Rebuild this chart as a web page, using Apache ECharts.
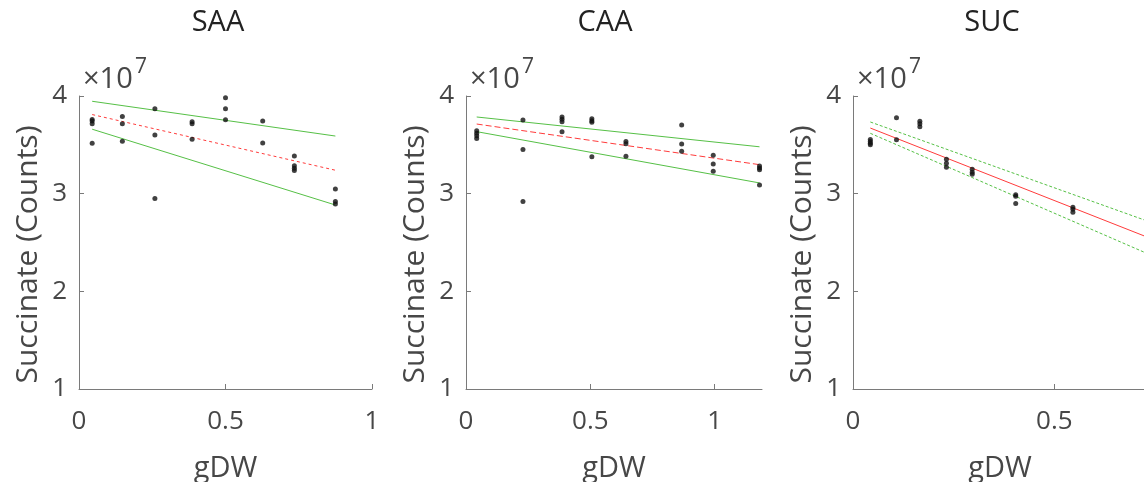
<!DOCTYPE html>
<html>
<head>
<meta charset="utf-8">
<script src="https://cdn.jsdelivr.net/npm/echarts@6/dist/echarts.min.js"></script>
<style>
  html, body { margin: 0; padding: 0; background: #ffffff; }
  #chart { width: 1144px; height: 482px; }
</style>
</head>
<body>
<div id="chart"></div>
<script>
// Succinate (counts, in units of 1e7) against dry weight for three growth conditions
const panelTitles = ['SAA', 'CAA', 'SUC'];
const yTicks = [1, 2, 3, 4];
const xTicksSAA = [0, 0.5, 1];
const xTicksCAA = [0, 0.5, 1];
const xTicksSUC = [0, 0.5];
const xMaxes = [1, 1.19, 0.73];

// SAA measurements
const saaX = [0.045, 0.045, 0.045, 0.045, 0.148, 0.148, 0.148, 0.259, 0.259, 0.259,
              0.386, 0.386, 0.386, 0.5, 0.5, 0.5, 0.627, 0.627,
              0.735, 0.735, 0.735, 0.735, 0.875, 0.875, 0.875];
const saaY = [3.76, 3.745, 3.715, 3.515, 3.79, 3.715, 3.537, 3.87, 3.60, 2.95,
              3.737, 3.717, 3.556, 3.983, 3.87, 3.757, 3.744, 3.518,
              3.386, 3.285, 3.26, 3.237, 3.048, 2.92, 2.895];
const saaFitX = [0.045, 0.875];
const saaFit = [3.81, 3.24];
const saaUpper = [3.946, 3.59];
const saaLower = [3.66, 2.884];

// CAA measurements
const caaX = [0.043, 0.043, 0.043, 0.043, 0.229, 0.229, 0.229,
              0.386, 0.386, 0.386, 0.386, 0.506, 0.506, 0.506, 0.506,
              0.643, 0.643, 0.643, 0.867, 0.867, 0.867, 0.994, 0.994, 0.994,
              1.18, 1.18, 1.18, 1.18];
const caaY = [3.645, 3.618, 3.594, 3.565, 3.755, 3.452, 2.92,
              3.785, 3.761, 3.737, 3.635, 3.768, 3.747, 3.73, 3.377,
              3.533, 3.512, 3.383, 3.703, 3.509, 3.434, 3.393, 3.304, 3.229,
              3.283, 3.263, 3.245, 3.089];
const caaFitX = [0.043, 1.18];
const caaFit = [3.713, 3.297];
const caaUpper = [3.785, 3.48];
const caaLower = [3.635, 3.11];

// SUC measurements
const sucX = [0.043, 0.043, 0.043, 0.043, 0.108, 0.108, 0.166, 0.166, 0.166,
              0.232, 0.232, 0.232, 0.296, 0.296, 0.296, 0.404, 0.404, 0.404,
              0.546, 0.546, 0.546];
const sucY = [3.555, 3.535, 3.515, 3.50, 3.778, 3.552, 3.741, 3.716, 3.686,
              3.352, 3.311, 3.27, 3.25, 3.22, 3.20, 2.99, 2.973, 2.90,
              2.86, 2.84, 2.81];
const sucFitX = [0.043, 0.73];
const sucFit = [3.672, 2.556];
const sucUpper = [3.734, 2.721];
const sucLower = [3.618, 2.388];

const FONT = '"Open Sans", "Noto Sans", sans-serif';
const AXIS_GRAY = '#7a7a7a';
const LABEL_GRAY = '#474747';
const RED = '#ff3b3b';
const GREEN = '#56c046';

const zip = (xs, ys) => xs.map((x, i) => [x, ys[i]]);

const panels = [
  { x: saaX, y: saaY, fx: saaFitX, fit: saaFit, up: saaUpper, lo: saaLower, xt: xTicksSAA,
    left: 79, width: 293, fitDash: [3, 3], bandDash: 'solid' },
  { x: caaX, y: caaY, fx: caaFitX, fit: caaFit, up: caaUpper, lo: caaLower, xt: xTicksCAA,
    left: 466, width: 296, fitDash: [6, 3], bandDash: 'solid' },
  { x: sucX, y: sucY, fx: sucFitX, fit: sucFit, up: sucUpper, lo: sucLower, xt: xTicksSUC,
    left: 853, width: 294, fitDash: 'solid', bandDash: [3, 2] }
];

const grid = [], xAxis = [], yAxis = [], series = [], graphic = [];

panels.forEach((p, i) => {
  grid.push({ left: p.left, top: 96, width: p.width, height: 293,
              containLabel: false, outerBoundsMode: 'none' });

  xAxis.push({
    type: 'value', gridIndex: i, min: 0, max: xMaxes[i],
    name: 'gDW', nameLocation: 'middle', nameGap: 65,
    nameTextStyle: { fontFamily: FONT, fontSize: 29, color: LABEL_GRAY },
    axisLine: { show: true, onZero: false, lineStyle: { color: AXIS_GRAY, width: 1 } },
    axisTick: { show: true, inside: true, length: 5, customValues: p.xt,
                lineStyle: { color: AXIS_GRAY } },
    axisLabel: { customValues: p.xt, fontFamily: FONT, fontSize: 26, color: LABEL_GRAY, margin: 20 },
    splitLine: { show: false }
  });

  yAxis.push({
    type: 'value', gridIndex: i, min: 1, max: 4, interval: 1,
    name: 'Succinate (Counts)', nameLocation: 'middle', nameGap: 36, nameRotate: 90,
    nameTextStyle: { fontFamily: FONT, fontSize: 30, color: LABEL_GRAY, padding: [0, 24, 0, 0] },
    axisLine: { show: true, onZero: false, lineStyle: { color: AXIS_GRAY, width: 1 } },
    axisTick: { show: true, inside: true, length: 5, lineStyle: { color: AXIS_GRAY } },
    axisLabel: { fontFamily: FONT, fontSize: 26, color: LABEL_GRAY, margin: 12,
                 formatter: v => String(v) },
    splitLine: { show: false }
  });

  const lineSeries = (ys, color, dash) => ({
    type: 'line', xAxisIndex: i, yAxisIndex: i, data: zip(p.fx, ys),
    showSymbol: false, symbol: 'none', clip: true, z: 2, silent: true,
    lineStyle: { color: color, width: 1, type: dash }
  });
  series.push(lineSeries(p.up, GREEN, p.bandDash));
  series.push(lineSeries(p.lo, GREEN, p.bandDash));
  series.push(lineSeries(p.fit, RED, p.fitDash));
  series.push({
    type: 'scatter', xAxisIndex: i, yAxisIndex: i, data: zip(p.x, p.y),
    symbol: 'circle', symbolSize: 5, z: 3, silent: true,
    itemStyle: { color: '#111111' }
  });

  // panel title and exponent marker
  graphic.push({
    type: 'text', x: p.left + 139, y: 23,
    style: { text: panelTitles[i], font: '29px ' + FONT, fill: '#222222',
             align: 'center', verticalAlign: 'middle' }
  });
  graphic.push({
    type: 'text', x: p.left + 4, y: 80,
    style: { text: '\u00d710', font: '29px ' + FONT, fill: LABEL_GRAY,
             align: 'left', verticalAlign: 'middle' }
  });
  graphic.push({
    type: 'text', x: p.left + 56, y: 67,
    style: { text: '7', font: '21px ' + FONT, fill: LABEL_GRAY,
             align: 'left', verticalAlign: 'middle' }
  });
});

const chart = echarts.init(document.getElementById('chart'), null, { renderer: 'canvas' });
chart.setOption({
  animation: false,
  backgroundColor: '#ffffff',
  grid, xAxis, yAxis, series, graphic
});
</script>
</body>
</html>
